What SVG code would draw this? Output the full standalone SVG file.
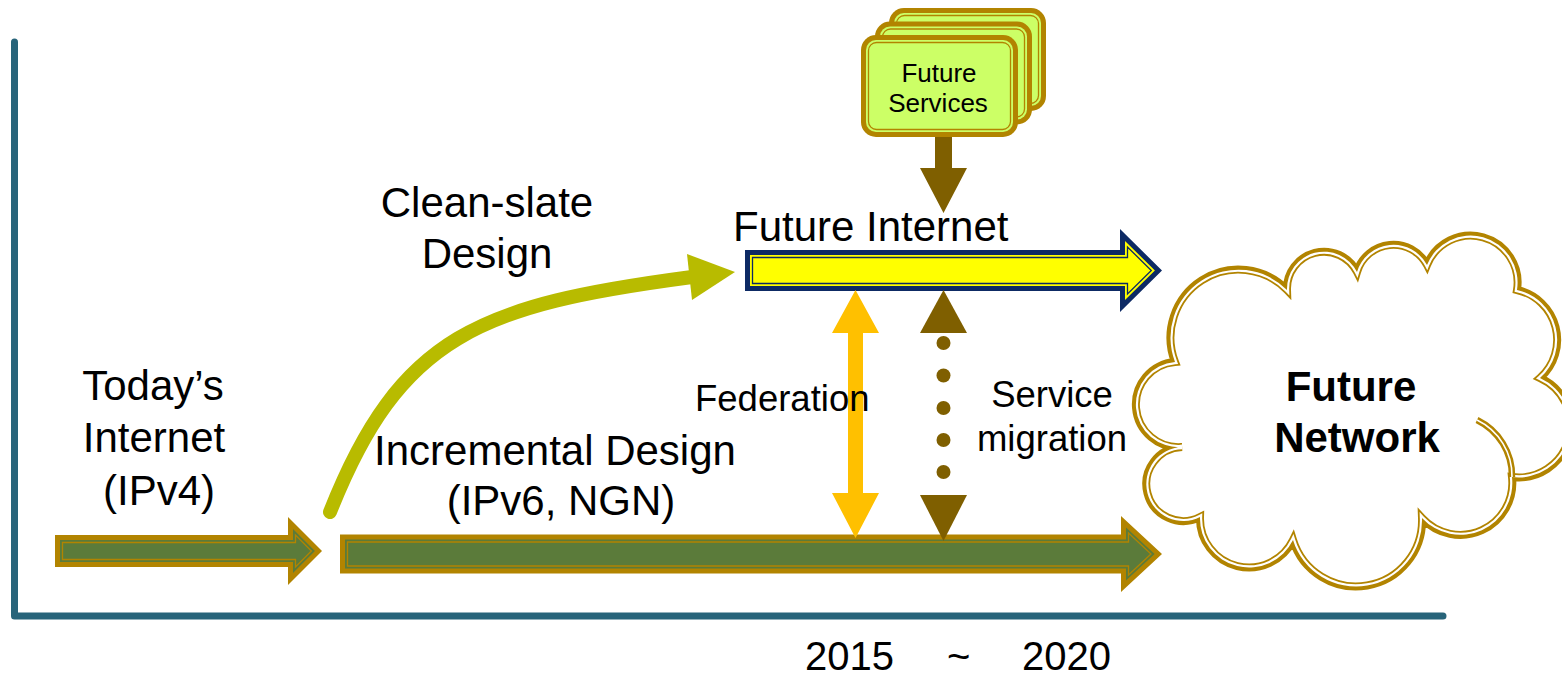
<svg xmlns="http://www.w3.org/2000/svg" width="1562" height="678" viewBox="0 0 1562 678">
<defs>
<style>
.t{font-family:"Liberation Sans",Arial,sans-serif;fill:#000}
.c{text-anchor:middle}
.f42{font-size:42px}
.f36{font-size:36.5px}
.gold{fill:#b28400}
.goldline{fill:none;stroke:#b28400;stroke-width:1.3}
.green{fill:#5b7b3a}
.navy{fill:#0d2a64}
.navyline{fill:none;stroke:#0d2a64;stroke-width:1.3}
.yellow{fill:#ffff00}
.brown{fill:#7f5f00}
.card-o{fill:#b28400}
.card-i{fill:#ccff66}
.card-l{fill:none;stroke:#b28400;stroke-width:1.3}
</style>
<clipPath id="cloudClip">
<path d="M1175,362 A68,68 0 0 1 1287,290 A37,37 0 0 1 1357,272 A38,38 0 0 1 1427,265 A47,47 0 0 1 1517,290 A51,51 0 0 1 1540,378 A52,52 0 0 1 1512,477 A52,52 0 0 1 1422,518 A66,66 0 0 1 1293,540 A49,49 0 0 1 1200,517 A37,37 0 1 1 1182,447 A42,42 0 0 1 1175,362 Z"/>
</clipPath>
</defs>
<rect width="1562" height="678" fill="#fff"/>

<g id="axes" fill="none" stroke="#28647a" stroke-width="7" stroke-linecap="round" stroke-linejoin="round">
<path d="M14.5,42 L14.5,616 L1443,616"/>
</g>

<g id="connectors">
<g id="clean-slate-arrow">
<path d="M330,512 C400,335 480,305 692,277" fill="none" stroke="#b8bb00" stroke-width="14" stroke-linecap="round"/>
<polygon points="735,272 687,254 692,300" fill="#b8bb00"/>
</g>
<g id="services-arrow">
<polygon class="brown" points="935,137 952,137 952,168 967,168 943.5,213 920,168 935,168"/>
</g>
</g>

<g id="todays-internet">
<path class="gold" d="M55,535 L288,535 L288,517 L322,551 L288,585 L288,567 L55,567 Z"/>
<path class="green" d="M60,540 L293,540 L293,529.1 L314.9,551 L293,572.9 L293,562 L60,562 Z"/>
<path class="goldline" d="M62.5,542.5 L295.5,542.5 L295.5,535.1 L311.4,551 L295.5,566.9 L295.5,559.5 L62.5,559.5 Z"/>
<text class="t c f42" x="153" y="400">Today’s</text>
<text class="t c f42" x="154" y="452">Internet</text>
<text class="t c f42" x="159" y="505">(IPv4)</text>
</g>

<g id="incremental-design">
<path class="gold" d="M340,534.5 L1121,534.5 L1121,516 L1162,554 L1121,592 L1121,573.5 L340,573.5 Z"/>
<path class="green" d="M345,539.5 L1126,539.5 L1126,527.5 L1154.6,554 L1126,580.5 L1126,568.5 L345,568.5 Z"/>
<path class="goldline" d="M347.5,542 L1128.5,542 L1128.5,533.1 L1151,554 L1128.5,574.9 L1128.5,566 L347.5,566 Z"/>
<text class="t c f42" x="555" y="465">Incremental Design</text>
<text class="t c f42" x="561" y="515">(IPv6, NGN)</text>
</g>

<g id="clean-slate-label">
<text class="t c f42" x="487" y="217">Clean-slate</text>
<text class="t c f42" x="487" y="268">Design</text>
</g>

<g id="future-internet">
<path class="navy" d="M745,250 L1120,250 L1120,229 L1162,270.5 L1120,312 L1120,291 L745,291 Z"/>
<path class="yellow" d="M750,255 L1125,255 L1125,241 L1154.9,270.5 L1125,300 L1125,286 L750,286 Z"/>
<path class="navyline" d="M752.5,257.5 L1127.5,257.5 L1127.5,247 L1151.3,270.5 L1127.5,294 L1127.5,283.5 L752.5,283.5 Z"/>
<text class="t f42" x="733" y="241">Future Internet</text>
</g>

<g id="future-services">
<rect class="card-o" x="889" y="8" width="157" height="103" rx="15"/>
<rect class="card-i" x="894" y="13" width="147" height="93" rx="10"/>
<rect class="card-l" x="896.5" y="15.5" width="142" height="88" rx="8"/>
<rect class="card-o" x="875" y="21.5" width="157" height="103" rx="15"/>
<rect class="card-i" x="880" y="26.5" width="147" height="93" rx="10"/>
<rect class="card-l" x="882.5" y="29" width="142" height="88" rx="8"/>
<rect class="card-o" x="861" y="35" width="157" height="102" rx="15"/>
<rect class="card-i" x="866" y="40" width="147" height="92" rx="10"/>
<rect class="card-l" x="868.5" y="42.5" width="142" height="87" rx="8"/>
<text class="t c" style="font-size:26px" x="939" y="82">Future</text>
<text class="t c" style="font-size:26px" x="938" y="112">Services</text>
</g>

<g id="federation">
<polygon fill="#ffc000" points="855.5,290 879,333 863,333 863,493 879,493 855.5,538 832,493 848,493 848,333 832,333"/>
<text class="t f36" x="695" y="411">Federation</text>
</g>

<g id="service-migration">
<polygon class="brown" points="943.5,290 967,333 920,333"/>
<polygon class="brown" points="920,495 967,495 943.5,541"/>
<circle class="brown" cx="943.5" cy="343" r="7"/>
<circle class="brown" cx="943.5" cy="375.5" r="7"/>
<circle class="brown" cx="943.5" cy="408" r="7"/>
<circle class="brown" cx="943.5" cy="440" r="7"/>
<circle class="brown" cx="943.5" cy="472" r="7"/>
<text class="t c f36" x="1052" y="407">Service</text>
<text class="t c f36" x="1052" y="451">migration</text>
</g>

<g id="future-network">
<path d="M1175,362 A68,68 0 0 1 1287,290 A37,37 0 0 1 1357,272 A38,38 0 0 1 1427,265 A47,47 0 0 1 1517,290 A51,51 0 0 1 1540,378 A52,52 0 0 1 1512,477 A52,52 0 0 1 1422,518 A66,66 0 0 1 1293,540 A49,49 0 0 1 1200,517 A37,37 0 1 1 1182,447 A42,42 0 0 1 1175,362 Z" fill="#fff" stroke="#b28400" stroke-width="8"/>
<path d="M1175,362 A68,68 0 0 1 1287,290 A37,37 0 0 1 1357,272 A38,38 0 0 1 1427,265 A47,47 0 0 1 1517,290 A51,51 0 0 1 1540,378 A52,52 0 0 1 1512,477 A52,52 0 0 1 1422,518 A66,66 0 0 1 1293,540 A49,49 0 0 1 1200,517 A37,37 0 1 1 1182,447 A42,42 0 0 1 1175,362 Z" fill="none" stroke="#fff" stroke-width="4.4" clip-path="url(#cloudClip)"/>
<path d="M1477,420 A62,62 0 0 1 1512,477" fill="none" stroke="#b28400" stroke-width="6.5"/>
<path d="M1477,420 A62,62 0 0 1 1512,477" fill="none" stroke="#fff" stroke-width="1.6"/>
<text class="t c f42" style="font-weight:bold" x="1351" y="401">Future</text>
<text class="t c f42" style="font-weight:bold" x="1357" y="452">Network</text>
</g>

<g id="timeline-label">
<text class="t" style="font-size:40px" y="670"><tspan x="805">2015</tspan><tspan x="947">~</tspan><tspan x="1022">2020</tspan></text>
</g>
</svg>
